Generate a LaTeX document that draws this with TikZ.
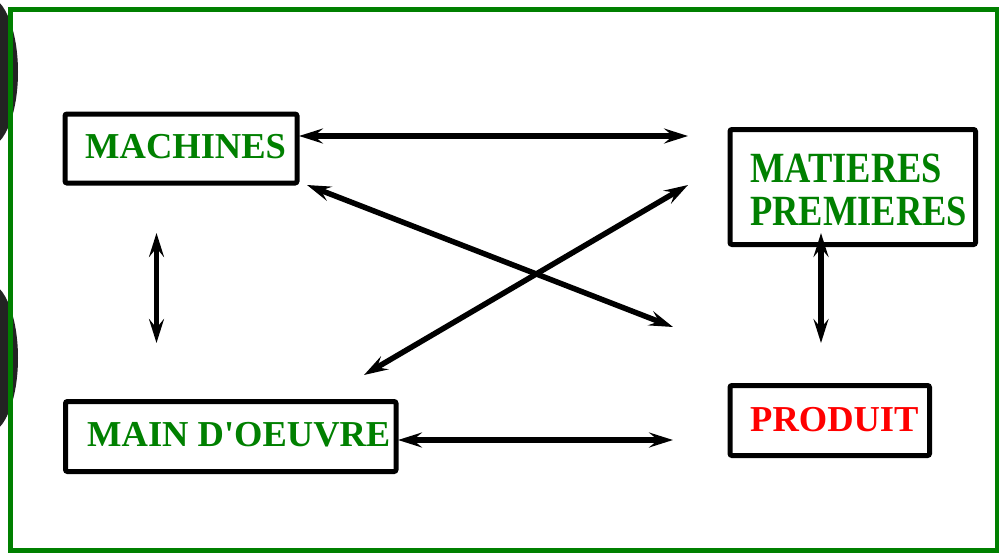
\documentclass[tikz,border=0pt]{standalone}
\usepackage{fontspec}
\setmainfont{Liberation Serif}
\usetikzlibrary{arrows.meta}
\definecolor{framegreen}{HTML}{008000}
\definecolor{labelgreen}{HTML}{008000}
\definecolor{labelred}{HTML}{FF0000}
\definecolor{blobgray}{HTML}{232323}
\tikzset{
  box/.style={draw=black, line width=5pt, rounded corners=2pt, inner sep=0pt},
  lbl/.style={anchor=base west, inner sep=0pt, font=\fontsize{36.5}{44}\selectfont\bfseries},
  link/.style={line width=5.5pt,
    {Stealth[length=24pt,width=15pt,inset=9pt]}-{Stealth[length=24pt,width=15pt,inset=9pt]}}
}
\begin{document}
\begin{tikzpicture}[x=1pt,y=-1pt]
  \useasboundingbox (0,0) rectangle (999,554);
  \fill[white] (0,0) rectangle (999,554);
  % dark blobs at the left edge
  \fill[blobgray] (-12,72) ellipse [x radius=30, y radius=75];
  \fill[blobgray] (-12,358) ellipse [x radius=30, y radius=75];
  % outer frame
  \draw[framegreen, line width=4.5pt] (10.5,9.5) rectangle (997,550.5);

  % boxes
  \node[box, minimum width=232pt, minimum height=69pt] (machines) at (181,148.5) {};
  \node[box, minimum width=245.5pt, minimum height=115pt] (matieres) at (852.75,187) {};
  \node[box, minimum width=330.5pt, minimum height=70pt] (mainoeuvre) at (230.75,436.5) {};
  \node[box, minimum width=199.5pt, minimum height=70pt] (produit) at (829.75,420.5) {};

  % labels
  \node[lbl, text=labelgreen] (tmachines) at (85,158.3) {MACHINES};
  \node[lbl, text=labelgreen] (tmatieres) at (750,182) {\scalebox{1}[1.18]{MATIERES}};
  \node[lbl, text=labelgreen] (tpremieres) at (750,225.5) {\scalebox{1}[1.18]{PREMIERES}};
  \node[lbl, text=labelgreen] (tmain) at (87,446.7) {MAIN D\textquotesingle OEUVRE};
  \node[lbl, text=labelred] (tproduit) at (750,431) {PRODUIT};

  % arrow end points
  \coordinate (a1) at (299,136);   \coordinate (b1) at (688,136);
  \coordinate (a2) at (307,185);   \coordinate (b2) at (673,327);
  \coordinate (a3) at (364,375);   \coordinate (b3) at (688,185);
  \coordinate (a4) at (156.5,233); \coordinate (b4) at (156.5,343);
  \coordinate (a5) at (821,233);   \coordinate (b5) at (821,343);
  \coordinate (a6) at (398,440);   \coordinate (b6) at (673,440);

  % connectors
  \draw[link] (a1) -- (b1);
  \draw[link] (a2) -- (b2);
  \draw[link] (a3) -- (b3);
  \draw[link] (a4) -- (b4);
  \draw[link] (a5) -- (b5);
  \draw[link] (a6) -- (b6);
\end{tikzpicture}
\end{document}
